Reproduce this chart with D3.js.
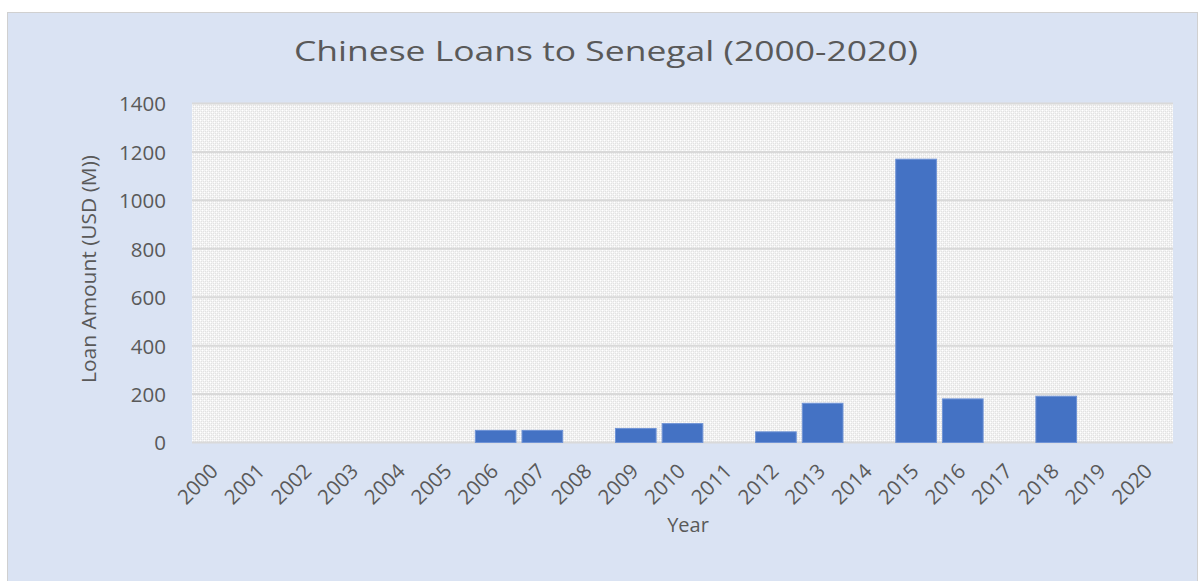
<!DOCTYPE html>
<html>
<head>
<meta charset="utf-8">
<script src="https://cdn.jsdelivr.net/npm/d3@7"></script>
<style>
  html, body { margin: 0; padding: 0; background: #ffffff; }
  svg { display: block; }
</style>
</head>
<body>
<svg id="chart" width="1198" height="581"></svg>
<script>
// Chinese loans to Senegal, USD millions, by year
const years = ["2000","2001","2002","2003","2004","2005","2006","2007","2008","2009","2010",
               "2011","2012","2013","2014","2015","2016","2017","2018","2019","2020"];
const loans = [0, 0, 0, 0, 0, 0, 50, 50, 0, 58, 78, 0, 44, 162, 0, 1170, 180, 0, 191, 0, 0];
const yTicks = [0, 200, 400, 600, 800, 1000, 1200, 1400];

const titleText = "Chinese Loans to Senegal (2000-2020)";
const xTitle = "Year";
const yTitle = "Loan Amount (USD (M))";

const svg = d3.select("#chart");
const W = 1198, H = 581;
const plot = { left: 192, right: 1173, top: 103.5, bottom: 442.5 };
const textColor = "#595959";
const font = "'Open Sans', 'Noto Sans', sans-serif";

// chart background panel
svg.append("rect")
  .attr("x", 7.5).attr("y", 12.5)
  .attr("width", W - 8).attr("height", H - 12)
  .attr("fill", "#dae3f3")
  .attr("stroke", "#d0d0d0").attr("stroke-width", 1);

// dotted-diamond fill for the plot area
const defs = svg.append("defs");
const pat = defs.append("pattern")
  .attr("id", "diamonds")
  .attr("patternUnits", "userSpaceOnUse")
  .attr("width", 4).attr("height", 4);
pat.append("rect").attr("width", 4).attr("height", 4).attr("fill", "#f2f2f2");
pat.append("rect").attr("x", 0).attr("y", 0).attr("width", 1).attr("height", 1).attr("fill", "#ffffff");
pat.append("rect").attr("x", 2).attr("y", 2).attr("width", 1).attr("height", 1).attr("fill", "#ffffff");
pat.append("rect").attr("x", 1).attr("y", 1).attr("width", 1).attr("height", 1).attr("fill", "#e2e2e2");
pat.append("rect").attr("x", 3).attr("y", 3).attr("width", 1).attr("height", 1).attr("fill", "#e2e2e2");
pat.append("rect").attr("x", 1).attr("y", 3).attr("width", 1).attr("height", 1).attr("fill", "#e2e2e2");
pat.append("rect").attr("x", 3).attr("y", 1).attr("width", 1).attr("height", 1).attr("fill", "#e2e2e2");

svg.append("rect")
  .attr("x", plot.left).attr("y", plot.top)
  .attr("width", plot.right - plot.left).attr("height", plot.bottom - plot.top)
  .attr("fill", "url(#diamonds)");

// scales
const x = d3.scaleBand().domain(years).range([plot.left, plot.right]).paddingInner(0.13).paddingOuter(0.065);
const y = d3.scaleLinear().domain([0, 1400]).range([plot.bottom, plot.top]);

// gridlines
svg.append("g").selectAll("line")
  .data(yTicks)
  .join("line")
  .attr("x1", plot.left).attr("x2", plot.right)
  .attr("y1", d => y(d)).attr("y2", d => y(d))
  .attr("stroke", "#d9d9d9").attr("stroke-width", 2);

// bars
svg.append("g").selectAll("rect")
  .data(years.map((yr, i) => ({ yr, v: loans[i] })).filter(d => d.v > 0))
  .join("rect")
  .attr("x", d => x(d.yr))
  .attr("width", x.bandwidth())
  .attr("y", d => y(d.v))
  .attr("height", d => y(0) - y(d.v))
  .attr("fill", "#4472c4")
  .attr("stroke", "#6f93d6").attr("stroke-width", 1);

// y axis labels
const yAxis = d3.axisLeft(y).tickValues(yTicks).tickSize(0).tickPadding(0).tickFormat(d3.format("d"));
const yg = svg.append("g").attr("transform", `translate(${plot.left - 26},0)`).call(yAxis);
yg.select(".domain").remove();
yg.selectAll("text")
  .attr("fill", textColor)
  .attr("font-family", font)
  .attr("font-size", 20.5)
  .attr("dy", "0.36em");

// x axis labels, rotated
const xAxis = d3.axisBottom(x).tickSize(0).tickPadding(0);
const xg = svg.append("g").attr("transform", `translate(0,${plot.bottom})`).call(xAxis);
xg.select(".domain").remove();
xg.selectAll("text")
  .attr("fill", textColor)
  .attr("font-family", font)
  .attr("font-size", 20.5)
  .attr("text-anchor", "end")
  .attr("dy", 0)
  .attr("y", 0)
  .attr("transform", "translate(4,30) rotate(-45)");

// titles
svg.append("text")
  .attr("x", 606).attr("y", 61)
  .attr("text-anchor", "middle")
  .attr("fill", textColor)
  .attr("font-family", font)
  .attr("font-size", 27)
  .attr("textLength", 624)
  .attr("lengthAdjust", "spacingAndGlyphs")
  .text(titleText);

svg.append("text")
  .attr("x", 688).attr("y", 532)
  .attr("text-anchor", "middle")
  .attr("fill", textColor)
  .attr("font-family", font)
  .attr("font-size", 20)
  .text(xTitle);

svg.append("text")
  .attr("transform", `translate(96,269) rotate(-90)`)
  .attr("text-anchor", "middle")
  .attr("fill", textColor)
  .attr("font-family", font)
  .attr("font-size", 20)
  .attr("textLength", 228)
  .attr("lengthAdjust", "spacingAndGlyphs")
  .text(yTitle);
</script>
</body>
</html>
